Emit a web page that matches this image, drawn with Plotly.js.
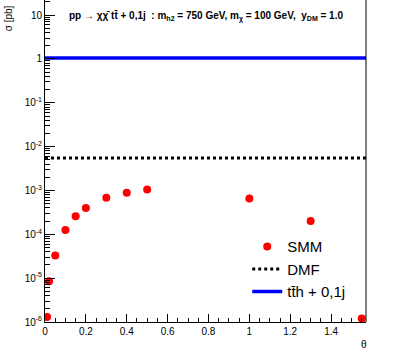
<!DOCTYPE html>
<html>
<head>
<meta charset="utf-8">
<script src="https://cdn.plot.ly/plotly-3.0.1.min.js"></script>
<style>
  html, body { margin: 0; padding: 0; background: #fff; }
  #graph { width: 407px; height: 361px; }
</style>
</head>
<body>
<div id="graph"></div>
<script>
// SMM scan in theta
let theta = [0.01, 0.02, 0.05, 0.1, 0.15, 0.2, 0.3, 0.4, 0.5, 1.0, 1.3, 1.55];
let smm_xsec = [1.3e-6, 8.5e-6, 3.3e-5, 1.26e-4, 2.6e-4, 4.0e-4, 6.8e-4, 8.9e-4, 1.05e-3, 6.6e-4, 2.0e-4, 1.2e-6];

// flat references
let ref_theta = [0, Math.PI / 2];
let dmf_xsec = [5.5e-3, 5.5e-3];
let tth_xsec = [1.05, 1.05];

let x_ticks = [0, 0.2, 0.4, 0.6, 0.8, 1, 1.2, 1.4];
let x_labels = ["0", "0.2", "0.4", "0.6", "0.8", "1", "1.2", "1.4"];
let y_ticks = [1e-6, 1e-5, 1e-4, 1e-3, 1e-2, 1e-1, 1, 10];
let y_labels = ["10<sup>-6</sup>", "10<sup>-5</sup>", "10<sup>-4</sup>", "10<sup>-3</sup>",
    "10<sup>-2</sup>", "10<sup>-1</sup>", "1", "10"];

// minor log ticks 2..9 per decade
let y_minor = [];
for (let e = -6; e <= 1; e++) {
    for (let m = 2; m <= 9; m++) {
        y_minor.push(m * Math.pow(10, e));
    }
}

const FONT = "Liberation Sans, Arial, sans-serif";

let traces = [
    {
        x: theta,
        y: smm_xsec,
        name: "SMM",
        type: "scatter",
        mode: "markers",
        marker: { color: "#ff0000", size: 8 },
    },
    {
        x: ref_theta,
        y: dmf_xsec,
        name: "DMF",
        type: "scatter",
        mode: "lines",
        line: { color: "#000000", width: 3, dash: "dot" },
    },
    {
        x: ref_theta,
        y: tth_xsec,
        name: "tt\u0304h + 0,1j",
        type: "scatter",
        mode: "lines",
        line: { color: "#0000ff", width: 3.5 },
    },
];

let layout = {
    width: 407,
    height: 361,
    margin: { l: 45, r: 41, t: 0, b: 39 },
    paper_bgcolor: "#ffffff",
    plot_bgcolor: "#ffffff",
    font: { family: FONT, size: 10, color: "#000" },
    showlegend: true,
    legend: {
        x: 0.63,
        y: 0.285,
        xanchor: "left",
        yanchor: "top",
        bgcolor: "rgba(255,255,255,0)",
        font: { family: FONT, size: 15 },
        tracegroupgap: 0,
    },
    xaxis: {
        range: [0, Math.PI / 2],
        tickmode: "array",
        tickvals: x_ticks,
        ticktext: x_labels,
        ticks: "inside",
        ticklen: 8,
        tickcolor: "#000",
        showline: true,
        linecolor: "#000",
        linewidth: 1,
        showgrid: false,
        zeroline: false,
        minor: { dtick: 0.05, ticks: "inside", ticklen: 4, tickcolor: "#000", showgrid: false },
        tickfont: { family: FONT, size: 10 },
    },
    yaxis: {
        type: "log",
        range: [-6, 1.345],
        tickmode: "array",
        tickvals: y_ticks,
        ticktext: y_labels,
        ticks: "inside",
        ticklen: 10,
        tickcolor: "#000",
        showline: true,
        linecolor: "#000",
        linewidth: 1,
        showgrid: false,
        zeroline: false,
        minor: { tickmode: "array", tickvals: y_minor, ticks: "inside", ticklen: 5, tickcolor: "#000", showgrid: false },
        tickfont: { family: FONT, size: 10 },
    },
    shapes: [
        {
            type: "line", xref: "paper", yref: "paper",
            x0: 1, x1: 1, y0: 0, y1: 1,
            line: { color: "#000", width: 1 },
        },
    ],
    annotations: [
        {
            text: "<b>pp \u2192 \u03c7\u03c7\u0304 tt\u0304 + 0,1j  : m<sub>h2</sub> = 750 GeV, m<sub>\u03c7</sub> = 100 GeV,  y<sub>DM</sub> = 1.0</b>",
            xref: "paper", yref: "paper",
            x: 0.5, y: 0.95,
            xanchor: "center", yanchor: "middle",
            showarrow: false,
            font: { family: FONT, size: 10 },
        },
        {
            text: "\u03c3 [pb]",
            xref: "paper", yref: "paper",
            x: -0.115, y: 0.99,
            xanchor: "center", yanchor: "top",
            textangle: -90,
            showarrow: false,
            font: { family: FONT, size: 10 },
        },
        {
            text: "\u03b8",
            xref: "paper", yref: "paper",
            x: 0.995, y: -0.07,
            xanchor: "center", yanchor: "middle",
            showarrow: false,
            font: { family: FONT, size: 10 },
        },
    ],
};

Plotly.newPlot("graph", traces, layout, { displayModeBar: false, staticPlot: true });
</script>
</body>
</html>
